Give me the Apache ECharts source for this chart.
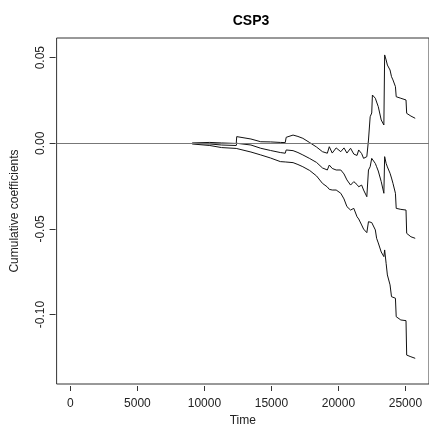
<!DOCTYPE html>
<html>
<head>
<meta charset="utf-8">
<script src="https://cdn.jsdelivr.net/npm/echarts@6/dist/echarts.min.js"></script>
<style>html,body{margin:0;padding:0;background:#fff}#c{width:429px;height:437px}</style>
</head>
<body>
<div id="c"></div>
<script>
var chartTitle = "CSP3";
var xTicks = [0, 5000, 10000, 15000, 20000, 25000];
var yTicks = [-0.10, -0.05, 0.00, 0.05];
var time = [9086,10402,11279,12376,12412,13472,14203,14934,15665,16031,16104,16616,16981,17347,17858,18370,18809,19174,19320,19540,19832,20176,20417,20636,20907,21148,21389,21513,21733,21879,22120,22208,22244,22369,22486,22537,22610,22756,22851,22975,23195,23392,23450,23560,23655,23853,23962,24072,24255,24313,24657,25044,25095,25410,25731];
var upper = [0.0002,0.0005,0.0002,-0.0001,0.0039,0.0025,0.0009,0.0008,0.0005,0.0004,0.0035,0.0048,0.0040,0.0029,0.0004,-0.0022,-0.0049,-0.0058,-0.0020,-0.0057,-0.0027,-0.0049,-0.0027,-0.0057,-0.0029,-0.0063,-0.0071,-0.0039,-0.0060,-0.0088,-0.0078,-0.0083,0.0019,0.0155,0.0177,0.0282,0.0276,0.0263,0.0241,0.0214,0.0136,0.0107,0.0516,0.0487,0.0457,0.0428,0.0389,0.0370,0.0331,0.0272,0.0263,0.0253,0.0175,0.0159,0.0146];
var estimate = [-0.0001,-0.0004,-0.0010,-0.0013,0.0000,-0.0010,-0.0029,-0.0042,-0.0054,-0.0058,-0.0039,-0.0043,-0.0054,-0.0068,-0.0089,-0.0112,-0.0144,-0.0156,-0.0127,-0.0147,-0.0156,-0.0156,-0.0179,-0.0214,-0.0244,-0.0224,-0.0241,-0.0254,-0.0244,-0.0273,-0.0312,-0.0312,-0.0156,-0.0137,-0.0088,-0.0086,-0.0098,-0.0118,-0.0137,-0.0162,-0.0224,-0.0292,-0.0078,-0.0117,-0.0138,-0.0175,-0.0203,-0.0234,-0.0292,-0.0380,-0.0386,-0.0390,-0.0526,-0.0546,-0.0555];
var lower = [-0.0004,-0.0013,-0.0025,-0.0030,-0.0036,-0.0051,-0.0068,-0.0086,-0.0107,-0.0109,-0.0106,-0.0113,-0.0124,-0.0137,-0.0159,-0.0191,-0.0234,-0.0255,-0.0269,-0.0273,-0.0273,-0.0292,-0.0325,-0.0370,-0.0390,-0.0380,-0.0429,-0.0442,-0.0477,-0.0501,-0.0522,-0.0522,-0.0458,-0.0458,-0.0463,-0.0466,-0.0471,-0.0506,-0.0555,-0.0582,-0.0635,-0.0662,-0.0623,-0.0701,-0.0769,-0.0827,-0.0896,-0.0898,-0.0905,-0.1013,-0.1032,-0.1036,-0.1237,-0.1247,-0.1256];

function pairs(vals){ return time.map(function(t,i){ return [t, vals[i]]; }); }
var font = "'Liberation Sans', Arial, sans-serif";
var lineStyle = {color:'#111', width:1};
function mkSeries(vals){
  return {type:'line', data:pairs(vals), showSymbol:false, symbol:'none', lineStyle:lineStyle, silent:true, animation:false};
}
var s1 = mkSeries(upper);
s1.markLine = {silent:true, symbol:['none','none'], label:{show:false}, lineStyle:{color:'#777', width:1, type:'solid'}, data:[{yAxis:0}], animation:false};

var chart = echarts.init(document.getElementById('c'), null, {renderer:'canvas'});
chart.setOption({
  animation:false,
  backgroundColor:'#fff',
  title:{text:chartTitle, left:246, top:9, textAlign:'center', textStyle:{fontFamily:font, fontSize:14, fontWeight:'bold', color:'#000'}},
  grid:{left:56.6, top:38, right:-7.8, bottom:53, show:true, borderColor:'#333', borderWidth:1, backgroundColor:'transparent'},
  xAxis:{type:'value', min:-1029, max:26760, offset:2,
    name:'Time', nameLocation:'middle', nameGap:29, nameTextStyle:{fontFamily:font, fontSize:12, color:'#222'},
    axisLine:{show:false, onZero:false}, splitLine:{show:false},
    axisTick:{show:true, length:5, lineStyle:{color:'#333'}, customValues:xTicks},
    axisLabel:{fontFamily:font, fontSize:12, color:'#222', margin:12, customValues:xTicks, formatter:function(v){return String(v);}}
  },
  yAxis:{type:'value', min:-0.1406, max:0.0615, offset:1,
    name:'Cumulative coefficients', nameLocation:'middle', nameGap:35, nameRotate:90, nameTextStyle:{fontFamily:font, fontSize:12, color:'#222'},
    axisLine:{show:false, onZero:false}, splitLine:{show:false},
    axisTick:{show:true, length:6, lineStyle:{color:'#333'}, customValues:yTicks},
    axisLabel:{fontFamily:font, fontSize:12, color:'#222', margin:9, rotate:90, customValues:yTicks, formatter:function(v){return v.toFixed(2);}}
  },
  series:[s1, mkSeries(estimate), mkSeries(lower)]
});
</script>
</body>
</html>
